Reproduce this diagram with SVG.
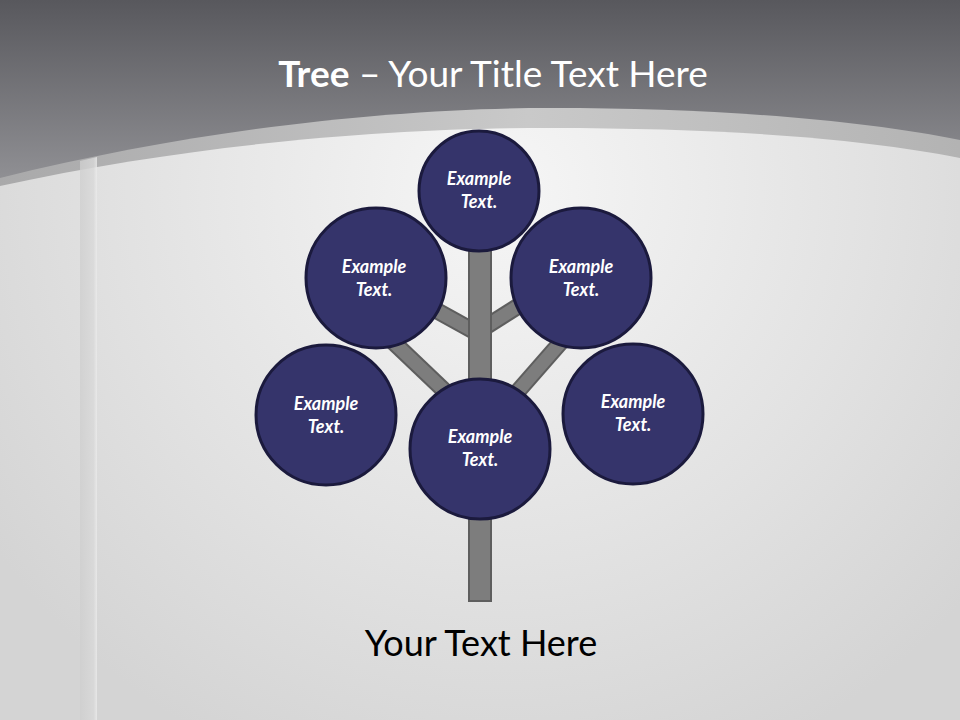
<svg xmlns="http://www.w3.org/2000/svg" width="960" height="720" viewBox="0 0 960 720">
  <defs>
    <linearGradient id="topGrad" x1="0" y1="0" x2="0" y2="190" gradientUnits="userSpaceOnUse">
      <stop offset="0" stop-color="#58585d"/>
      <stop offset="1" stop-color="#939397"/>
    </linearGradient>
    <linearGradient id="bandGrad" x1="0" y1="0" x2="1" y2="0">
      <stop offset="0" stop-color="#a9a9aa"/>
      <stop offset="0.55" stop-color="#c9c9c9"/>
      <stop offset="1" stop-color="#b3b3b3"/>
    </linearGradient>
    <radialGradient id="lightGrad" cx="500" cy="190" r="620" gradientUnits="userSpaceOnUse">
      <stop offset="0" stop-color="#f6f6f6"/>
      <stop offset="0.6" stop-color="#e2e2e2"/>
      <stop offset="1" stop-color="#d4d4d4"/>
    </radialGradient>
    <linearGradient id="stripGrad" x1="0" y1="0" x2="1" y2="0">
      <stop offset="0" stop-color="#cfcfcf"/>
      <stop offset="0.8" stop-color="#d9d9d9"/>
      <stop offset="1" stop-color="#ececec"/>
    </linearGradient>
    <style>
      .node { fill: #35346b; stroke: #1b1a3d; stroke-width: 3; }
      .label { font-family: Lato, "Open Sans", sans-serif; font-size: 18px; font-weight: bold; font-style: italic; fill: #ffffff; text-anchor: middle; }
      .branchOut { stroke: #5e5e5e; stroke-width: 17; fill: none; }
      .branchIn { stroke: #7d7d7d; stroke-width: 13; fill: none; }
    </style>
  </defs>

  <!-- background -->
  <rect x="0" y="0" width="960" height="720" fill="url(#topGrad)"/>
  <path d="M0,178 C200,128 400,108 550,108 C720,108 860,120 960,140 L960,720 L0,720 Z" fill="url(#bandGrad)"/>
  <path d="M0,186 C200,142 400,128 550,128 C720,128 860,138 960,158 L960,720 L0,720 Z" fill="url(#lightGrad)"/>
  <path d="M80,161 L97,157 L97,720 L80,720 Z" fill="url(#stripGrad)" opacity="0.8"/>

  <!-- title -->
  <text x="493" y="87" font-family="Lato, 'Open Sans', sans-serif" font-size="37" fill="#ffffff" text-anchor="middle"><tspan font-weight="bold">Tree</tspan> – Your Title Text Here</text>

  <!-- connectors -->
  <g id="connectors">
    <line class="branchOut" x1="412" y1="297" x2="479" y2="334"/>
    <line class="branchIn" x1="412" y1="297" x2="479" y2="334"/>
    <line class="branchOut" x1="528" y1="300" x2="479" y2="331"/>
    <line class="branchIn" x1="528" y1="300" x2="479" y2="331"/>
    <line class="branchOut" x1="388" y1="337" x2="472" y2="417"/>
    <line class="branchIn" x1="388" y1="337" x2="472" y2="417"/>
    <line class="branchOut" x1="568" y1="334" x2="492" y2="421"/>
    <line class="branchIn" x1="568" y1="334" x2="492" y2="421"/>
    <rect x="469" y="245" width="22" height="356" fill="#7d7d7d" stroke="#5e5e5e" stroke-width="2"/>
  </g>

  <!-- nodes -->
  <g id="node-top">
    <circle class="node" cx="479" cy="191" r="60"/>
    <text class="label" x="479" y="185">Example</text>
    <text class="label" x="479" y="208">Text.</text>
  </g>
  <g id="node-upper-left">
    <circle class="node" cx="376" cy="278" r="70"/>
    <text class="label" x="374" y="273">Example</text>
    <text class="label" x="374" y="296">Text.</text>
  </g>
  <g id="node-upper-right">
    <circle class="node" cx="581" cy="278" r="70"/>
    <text class="label" x="581" y="273">Example</text>
    <text class="label" x="581" y="296">Text.</text>
  </g>
  <g id="node-lower-left">
    <circle class="node" cx="326" cy="415" r="70"/>
    <text class="label" x="326" y="410">Example</text>
    <text class="label" x="326" y="433">Text.</text>
  </g>
  <g id="node-center">
    <circle class="node" cx="480" cy="449" r="70"/>
    <text class="label" x="480" y="443">Example</text>
    <text class="label" x="480" y="466">Text.</text>
  </g>
  <g id="node-lower-right">
    <circle class="node" cx="633" cy="414" r="70"/>
    <text class="label" x="633" y="408">Example</text>
    <text class="label" x="633" y="431">Text.</text>
  </g>

  <!-- bottom text -->
  <text x="481" y="656" font-family="Lato, 'Open Sans', sans-serif" font-size="36" fill="#000000" text-anchor="middle">Your Text Here</text>
</svg>
